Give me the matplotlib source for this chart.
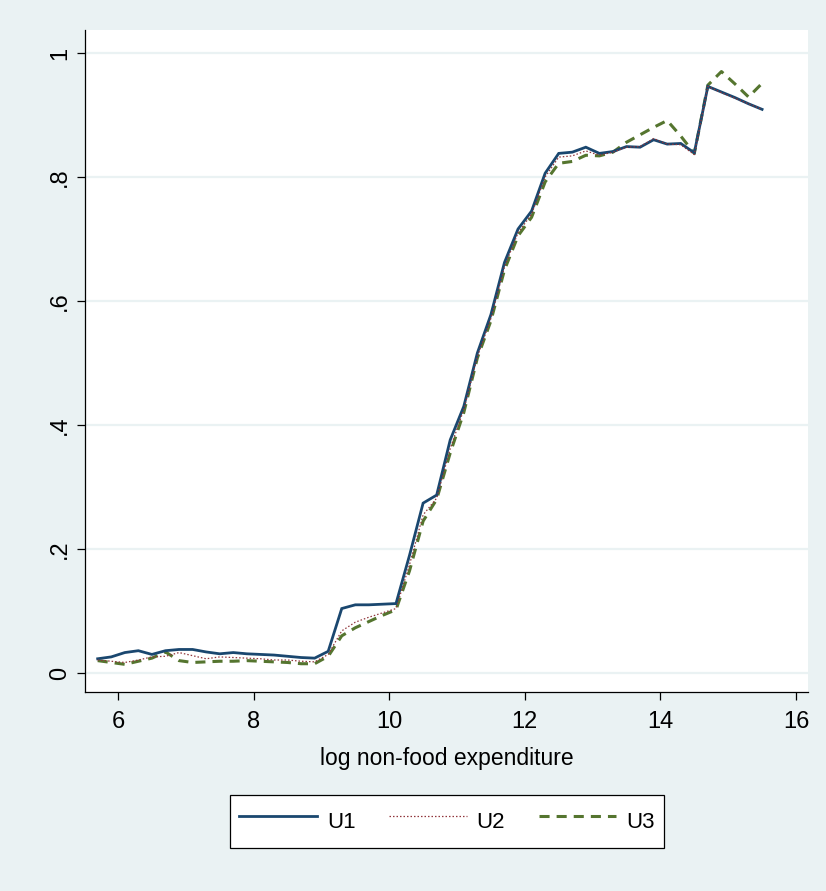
import matplotlib
matplotlib.use("Agg")
import matplotlib.pyplot as plt

plt.rcParams['font.family'] = ['Liberation Sans', 'DejaVu Sans']

x_vals = [5.7, 5.9, 6.1, 6.3, 6.5, 6.7, 6.9, 7.1, 7.3, 7.5, 7.7, 7.9, 8.1, 8.3, 8.5, 8.7, 8.9,
          9.1, 9.3, 9.5, 9.7, 9.9, 10.1, 10.3, 10.5, 10.7, 10.9, 11.1, 11.3, 11.5, 11.7, 11.9,
          12.1, 12.3, 12.5, 12.7, 12.9, 13.1, 13.3, 13.5, 13.7, 13.9, 14.1, 14.3, 14.5, 14.7,
          14.9, 15.1, 15.3, 15.5]

u1 = [0.023, 0.026, 0.033, 0.036, 0.030, 0.036, 0.038, 0.038, 0.034, 0.031, 0.033, 0.031,
      0.030, 0.029, 0.027, 0.025, 0.024, 0.035, 0.104, 0.110, 0.110, 0.111, 0.112, 0.190,
      0.274, 0.287, 0.376, 0.430, 0.516, 0.578, 0.662, 0.716, 0.745, 0.806, 0.838, 0.840,
      0.848, 0.838, 0.841, 0.849, 0.848, 0.860, 0.853, 0.854, 0.839, 0.946, 0.937, 0.928,
      0.918, 0.909]

u2 = [0.021, 0.019, 0.017, 0.021, 0.026, 0.027, 0.033, 0.028, 0.023, 0.026, 0.025, 0.024,
      0.023, 0.021, 0.021, 0.019, 0.018, 0.030, 0.068, 0.082, 0.090, 0.097, 0.104, 0.175,
      0.255, 0.282, 0.362, 0.425, 0.510, 0.572, 0.655, 0.710, 0.740, 0.800, 0.832, 0.834,
      0.842, 0.835, 0.840, 0.848, 0.849, 0.862, 0.853, 0.852, 0.836, 0.946, 0.936, 0.927,
      0.918, 0.909]

u3 = [0.020, 0.017, 0.014, 0.019, 0.024, 0.034, 0.020, 0.017, 0.018, 0.019, 0.019, 0.020,
      0.019, 0.018, 0.017, 0.015, 0.015, 0.027, 0.060, 0.073, 0.083, 0.093, 0.102, 0.165,
      0.245, 0.280, 0.355, 0.420, 0.508, 0.568, 0.650, 0.705, 0.735, 0.792, 0.822, 0.825,
      0.835, 0.834, 0.840, 0.856, 0.868, 0.880, 0.891, 0.866, 0.838, 0.948, 0.970, 0.950,
      0.929, 0.951]

series_names = ['U1', 'U2', 'U3']
x_ticks = [6, 8, 10, 12, 14, 16]
y_ticks = [0, 0.2, 0.4, 0.6, 0.8, 1.0]
y_tick_labels = ['0', '.2', '.4', '.6', '.8', '1']
x_label = 'log non-food expenditure'

BG = '#EAF2F3'
NAVY = '#1A476F'
MAROON = '#90353B'
GREEN = '#55752F'

W, H = 826, 891
fig = plt.figure(figsize=(W / 100, H / 100), dpi=100, facecolor=BG)
ax = fig.add_axes([85 / W, 1 - 692 / H, (808 - 85) / W, (692 - 30) / H])
ax.set_facecolor('white')

ax.set_xlim(5.513, 16.177)
ax.set_ylim(-0.0306, 1.037)

for yt in y_ticks:
    ax.axhline(yt, color=BG, lw=1.6, zorder=0)

l1, = ax.plot(x_vals, u1, color=NAVY, lw=2.0, zorder=3, solid_joinstyle='miter')
l2, = ax.plot(x_vals, u2, color=MAROON, lw=0.9, linestyle=(0, (1.2, 1.6)), zorder=4)
l3, = ax.plot(x_vals, u3, color=GREEN, lw=2.2, linestyle=(0, (3.3, 2.3)), zorder=2)

for s in ['top', 'right']:
    ax.spines[s].set_visible(False)
for s in ['left', 'bottom']:
    ax.spines[s].set_color('black')
    ax.spines[s].set_linewidth(0.9)

ax.set_xticks(x_ticks)
ax.set_xticklabels([str(t) for t in x_ticks])
ax.set_yticks(y_ticks)
ax.set_yticklabels(y_tick_labels, rotation=90, va='center')
ax.tick_params(axis='both', direction='out', length=6, width=0.9, color='black',
               labelsize=17)
ax.tick_params(axis='x', pad=8)
ax.tick_params(axis='y', pad=4)
ax.set_xlabel(x_label, fontsize=16.5, labelpad=10)

leg = fig.legend([l1, l2, l3], series_names, loc='center',
                 bbox_to_anchor=(447 / W, 1 - 821.5 / H), ncol=3, fontsize=16,
                 frameon=True, fancybox=False, edgecolor='black', facecolor='white',
                 framealpha=1, handlelength=3.5, handletextpad=0.45, columnspacing=1.5,
                 borderpad=0.4, handleheight=2.1)
leg.get_frame().set_linewidth(0.9)

fig.savefig('out.png', dpi=100, facecolor=BG)
